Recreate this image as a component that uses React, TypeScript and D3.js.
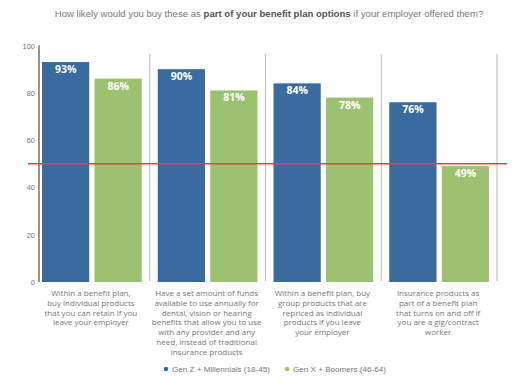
import React from "react";
import * as d3 from "d3";

const categories: string[][] = [
  ["Within a benefit plan,", "buy individual products", "that you can retain if you", "leave your employer"],
  ["Have a set amount of funds", "available to use annually for", "dental, vision or hearing", "benefits that allow you to use", "with any provider and any", "need, instead of traditional", "insurance products"],
  ["Within a benefit plan, buy", "group products that are", "repriced as individual", "products if you leave", "your employer"],
  ["Insurance products as", "part of a benefit plan", "that turns on and off if", "you are a gig/contract", "worker"],
];
const seriesNames = ["Gen Z + Millennials (18-45)", "Gen X + Boomers (46-64)"];
const genZ = [93, 90, 84, 76];
const genX = [86, 81, 78, 49];
const yTicks = [0, 20, 40, 60, 80, 100];
const threshold = 50;

const COLORS = ["#3a6b9e", "#9cc26f"];
const FONT = "'Liberation Sans', Arial, sans-serif";
const FONT2 = "'Open Sans', 'Liberation Sans', sans-serif";

export default function App() {
  const W = 532, H = 388;
  const x = d3.scaleBand<number>().domain(d3.range(categories.length)).range([34, 497]);
  const inner = d3.scaleBand<number>().domain([0, 1]).range([8, x.bandwidth() - 8]).paddingInner(0.1);
  const y = d3.scaleLinear().domain([0, 100]).range([282, 45.5]);
  const series = [genZ, genX];

  return (
    <svg width={W} height={H} style={{ position: "absolute", left: 0, top: 0, background: "#fff" }} fontFamily={FONT}>
      <text x={269} y={17} textAnchor="middle" fontSize={9.6} fill="#7a7a7a">
        How likely would you buy these as <tspan fontWeight="bold" fill="#555">part of your benefit plan options</tspan> if your employer offered them?
      </text>
      {categories.map((_, i) => (
        <line key={"s" + i} x1={(x(i) as number) + x.bandwidth()} x2={(x(i) as number) + x.bandwidth()} y1={54} y2={281} stroke="#c4c4c4" strokeWidth={1.2} />
      ))}
      <line x1={39} x2={39} y1={y(100)} y2={y(0)} stroke="#8a8a8a" strokeWidth={1.8} />
      {yTicks.map((t) => (
        <text key={"t" + t} x={35} y={y(t) + 3} textAnchor="end" fontSize={7.5} fill="#777">{t}</text>
      ))}
      {categories.map((_, i) =>
        series.map((s, j) => {
          const bx = (x(i) as number) + (inner(j) as number);
          const v = s[i];
          return (
            <g key={`b${i}-${j}`}>
              <rect x={bx} y={y(v)} width={inner.bandwidth()} height={y(0) - y(v)} fill={COLORS[j]} />
              <text x={bx + inner.bandwidth() / 2} y={y(v) + 11} textAnchor="middle" fontSize={10.5} fontWeight="bold" fill="#fff" fontFamily={FONT2}>{v}%</text>
            </g>
          );
        })
      )}
      <line x1={28} x2={507} y1={y(threshold)} y2={y(threshold)} stroke="#e8403f" strokeWidth={1.3} />
      {categories.map((lines, i) => (
        <text key={"c" + i} textAnchor="middle" fontSize={8} fill="#777" fontFamily={FONT2}>
          {lines.map((l, k) => (
            <tspan key={k} x={(x(i) as number) + x.bandwidth() / 2 - 1} y={296 + k * 9.8}>{l}</tspan>
          ))}
        </text>
      ))}
      {seriesNames.map((n, j) => {
        const lx = j === 0 ? 166 : 287;
        return (
          <g key={"l" + j}>
            <circle cx={lx} cy={369} r={2.2} fill={COLORS[j]} />
            <text x={lx + 6} y={372} fontSize={8.1} fill="#777">{n}</text>
          </g>
        );
      })}
    </svg>
  );
}
